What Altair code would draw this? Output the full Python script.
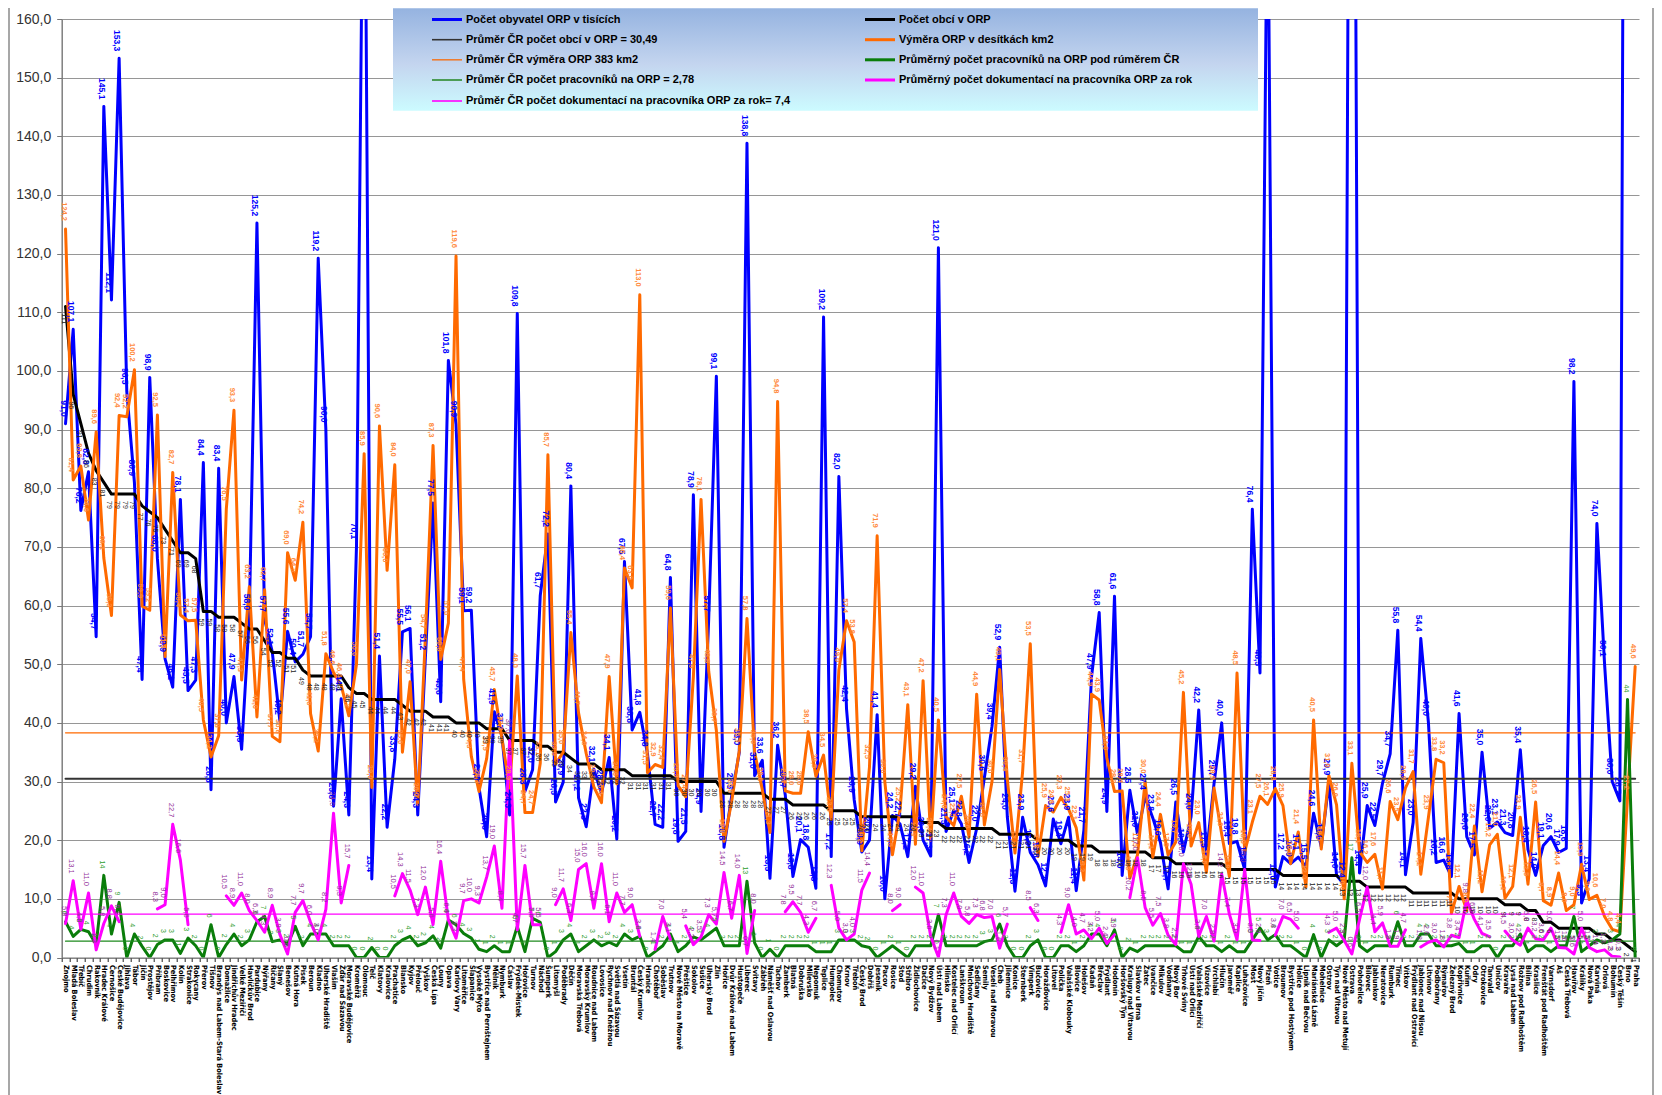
import altair as alt
import pandas as pd

N = None
categories = """Znojmo|Mladá Boleslav|Třebíč|Chrudim|Rakovník|Hradec Králové|Černošice|České Budějovice|Jihlava|Tábor|Jičín|Prostějov|Příbram|Boskovice|Pelhřimov|Kolín|Strakonice|Rokycany|Přerov|Tišnov|Brandýs nad Labem-Stará Boleslav|Domažlice|Jindřichův Hradec|Velké Meziříčí|Havlíčkův Brod|Pardubice|Nýřany|Říčany|Slaný|Benešov|Kutná Hora|Písek|Beroun|Kladno|Uherské Hradiště|Vlašim|Žďár nad Sázavou|Moravské Budějovice|Kroměříž|Olomouc|Telč|Klatovy|Kralovice|Prachatice|Blansko|Kyjov|Přelouč|Vyškov|Česká Lípa|Louny|Opava|Karlovy Vary|Litoměřice|Šlapanice|Vysoké Mýto|Bystřice nad Pernštejnem|Mělník|Nymburk|Čáslav|Frýdek-Místek|Hořovice|Turnov|Náchod|Šumperk|Litomyšl|Poděbrady|Děčín|Moravská Třebová|Moravský Krumlov|Roudnice nad Labem|Lovosice|Rychnov nad Kněžnou|Světlá nad Sázavou|Vsetín|Bruntál|Český Krumlov|Hranice|Chotěboř|Soběslav|Trutnov|Nové Město na Moravě|Přeštice|Sokolov|Sušice|Uherský Brod|Zlín|Hořice|Dvůr Králové nad Labem|Hustopeče|Liberec|Svitavy|Zábřeh|Náměšť nad Oslavou|Tachov|Žamberk|Blatná|Dobruška|Milevsko|Nepomuk|Teplice|Humpolec|Chomutov|Krnov|Třeboň|Český Brod|Dobříš|Jeseník|Pacov|Rosice|Stod|Stříbro|Židlochovice|Dačice|Nový Bydžov|Ústí nad Labem|Hlinsko|Kostelec nad Orlicí|Lanškroun|Mnichovo Hradiště|Sedlčany|Semily|Veselí nad Moravou|Cheb|Jilemnice|Konice|Šternberk|Vimperk|Bučovice|Horažďovice|Litovel|Polička|Valašské Klobouky|Blovice|Holešov|Kadaň|Břeclav|Frýdlant|Hodonín|Horšovský Týn|Kralupy nad Vltavou|Slavkov u Brna|Žatec|Ivančice|Mikulov|Vodňany|Nový Bor|Trhové Sviny|Ústí nad Orlicí|Valašské Meziříčí|Vizovice|Vrchlabí|Hlučín|Jaroměř|Kaplice|Luhačovice|Most|Nový Jičín|Plzeň|Votice|Broumov|Bystřice pod Hostýnem|Holice|Lipník nad Bečvou|Mariánské Lázně|Mohelnice|Ostrov|Týn nad Vltavou|Nové Město nad Metují|Ostrava|Pohořelice|Bílovec|Jablunkov|Neratovice|Rumburk|Třinec|Vítkov|Frýdlant nad Ostravicí|Jablonec nad Nisou|Litvínov|Podbořany|Rýmařov|Železný Brod|Kopřivnice|Kuřim|Odry|Otrokovice|Tanvald|Uničov|Kravaře|Lysá nad Labem|Rožnov pod Radhoštěm|Bílina|Kraslice|Frenštát pod Radhoštěm|Varnsdorf|Aš|Česká Třebová|Havířov|Králíky|Nová Paka|Karviná|Orlová|Bohumín|Český Těšín|Brno|Praha""".split("|")

obyvatel = [
91.0,107.1,76.2,82.8,54.7,145.1,112.1,153.3,96.5,80.9,
47.4,98.9,68.0,50.9,46.1,78.1,45.5,47.3,84.4,28.6,
83.4,40.0,47.9,35.5,58.0,125.2,57.7,52.1,40.2,55.6,
50.4,51.7,54.7,119.2,90.0,25.8,44.1,24.3,70.1,210,
13.4,51.4,22.2,33.8,55.5,56.1,24.3,51.2,77.5,43.6,
101.8,90.9,59.1,59.2,29.0,20.6,41.9,37.7,24.3,109.8,
28.3,32.0,61.7,72.2,26.5,29.9,80.4,27.2,22.3,32.1,
28.0,34.1,20.2,67.5,38.8,41.8,34.8,22.7,22.2,64.8,
19.8,21.5,78.9,24.9,57.7,99.1,18.8,27.5,35.0,138.8,
31.0,33.6,13.5,36.2,27.7,13.8,20.1,18.8,11.8,109.2,
17.2,82.0,42.4,26.9,18.0,20.0,41.4,10.0,24.2,22.7,
17.2,29.2,20.0,17.3,121.0,21.5,25.1,22.8,16.2,22.0,
30.6,39.4,52.9,24.0,11.3,23.9,17.9,15.8,12.2,23.6,
19.4,23.9,11.4,21.7,47.9,58.8,24.9,61.6,14.0,28.5,
21.0,27.4,23.8,19.6,11.7,26.5,18.0,24.0,42.2,17.5,
29.7,40.0,19.4,19.8,15.0,76.4,48.5,190,12.0,17.2,
16.0,17.1,15.5,24.6,18.9,29.9,14.0,12.4,320,14.4,
25.9,22.5,29.7,34.7,55.8,14.1,23.0,54.4,40.0,16.2,
16.6,13.8,41.6,20.6,17.5,35.0,22.0,23.1,21.3,20.8,
35.4,18.4,14.0,19.1,20.6,17.9,18.6,98.2,9.3,13.4,
74.0,50.1,30.0,26.7,380,N]

obce = [
111,96,91,86,83,81,79,79,79,79,
77,76,75,73,71,69,69,68,59,59,
58,58,58,57,56,56,54,52,52,51,
51,49,48,48,48,48,48,46,45,45,
44,44,44,44,43,42,42,42,41,41,
41,40,40,40,40,39,39,39,37,37,
37,37,36,36,35,35,34,33,33,33,
32,32,32,32,31,31,31,31,31,31,
30,30,30,30,30,30,28,28,28,28,
28,28,27,27,27,26,26,26,26,26,
25,25,25,25,24,24,24,24,24,24,
24,24,23,23,23,22,22,22,22,22,
22,22,21,21,21,21,21,20,20,20,
20,20,19,19,19,18,18,18,18,18,
18,18,17,17,17,16,16,16,16,16,
16,16,15,15,15,15,15,15,15,14,
14,14,14,14,14,14,14,13,13,13,
12,12,12,12,12,12,11,11,11,11,
11,11,10,10,10,10,10,10,9,9,
9,8,8,6,6,5,5,5,5,5,
4,4,3,3,2,1]

vymera = [
124.2,81.4,83.8,74.6,89.6,68.1,58.3,92.4,92.2,100.2,
59.9,59.2,92.5,51.3,82.7,58.4,57.4,57.5,40.5,34.2,
37.8,76.5,93.3,47.3,63.2,41.0,62.7,37.7,36.8,69.0,
64.3,74.2,41.6,35.2,51.8,48.6,46.4,41.2,50.0,85.9,
29.0,90.6,66.0,84.0,35.0,47.0,26.0,54.7,87.3,50.8,
57.0,119.6,47.4,34.3,28.3,33.9,45.7,37.3,28.9,48.0,
24.7,24.7,33.1,85.7,33.0,35.0,55.4,41.7,34.8,29.1,
26.4,47.9,29.6,66.4,63.0,113.0,31.5,32.9,32.4,59.6,
29.3,27.4,47.9,78.1,48.8,38.7,19.8,26.6,35.3,57.8,
35.0,28.6,21.3,94.8,28.4,28.0,28.0,38.5,30.9,34.5,
23.5,49.0,57.4,53.8,18.2,32.5,71.9,30.0,17.5,25.2,
43.1,19.3,47.2,20.0,40.5,24.0,22.5,27.5,20.6,44.9,
22.6,30.0,49.1,30.4,17.8,31.7,53.5,17.2,25.9,24.8,
27.3,25.3,22.1,13.2,44.9,43.9,34.0,28.3,28.4,13.5,
17.5,30.0,17.1,24.4,17.5,19.7,45.2,19.0,23.0,14.5,
28.9,21.0,13.8,48.5,18.0,23.1,27.5,26.1,28.8,25.9,
16.0,21.4,12.0,40.5,18.5,31.0,26.0,10.0,33.1,18.1,
16.2,17.6,11.7,26.6,23.5,28.9,31.7,14.2,23.9,33.8,
33.2,7.5,12.1,8.0,22.4,11.2,19.2,21.0,10.1,12.1,
23.9,12.5,26.5,9.7,8.9,14.4,8.0,9.0,15.9,9.9,
10.6,7.0,4.8,4.4,27.2,49.6]

pracovnici = [
6.1,3.6,4.8,4.4,2.2,14,4,9.4,0,4,
1.9,0,2.2,3,3,0.7,3.3,2,0,5.6,
0,2.2,4,2,3,6.1,7,2.7,3,2.2,
5.3,2,4,4,4,2,2,2,0,0,
1.7,0,0,2,3,3.6,2,2.5,3.7,1.6,
6.4,5.6,4.1,3.3,1.4,1,2,1,1,5.3,
1,6.7,6,0,1,3,4,1,2,3,
2,2.6,2,4,3,3.6,0,1,2,4,
1,2,3.5,3,4,5,2,2,2,13,
2.5,0,1.4,0,2,2,2,2,1,1,
1,3,3,3,2,1.7,0,1,2,1,
0,2,2,2,7.3,2,2,2,2,2,
2.7,3,5.7,2,0,0,2,3,0,0,
2,2,1,2,4,4,2,4.7,0,1.6,
1,2,2,2,2,2,1,1,3.6,2,
2,1,2,1,1,3,5,3,3.9,2,
2,1,0,3.9,0,3,2,3,17,2,
1,2,2,2,6.1,2,2,4,4,2,
2,2,2.4,1,1,2,2,0,2,2,
4,1,2,2,1,2,2,7,1,2,
3,2.5,3,4,44,0]

dokumentace = [
5.8,13.1,4.8,11.0,1.3,5.8,8.8,6.1,N,N,
N,N,8.3,9.0,22.7,16.6,5.6,N,N,N,
N,10.5,8.9,11.0,8.0,6.3,4.3,8.9,3.9,0.6,
7.7,9.7,6.0,3.0,8.2,24.6,9.3,15.7,N,N,
N,N,N,10.5,14.3,11.5,7.3,12.0,5.6,16.4,
6.4,3.3,9.7,10.0,9.3,13.7,19.0,8.4,37.0,4.7,
15.7,5.6,5.6,N,9.0,11.7,6.3,15.0,16.0,8.4,
16.0,6.1,11.0,7.7,9.0,3.6,N,1.4,7.0,3.1,
N,5.4,2.2,3.5,7.3,5.7,14.5,6.7,14.0,0.7,
8.0,N,N,N,7.8,9.5,7.7,4.3,6.7,N,
12.3,5.0,3.0,4.0,11.5,14.4,N,N,8.0,9.0,
N,12.0,11.0,3.6,0.1,7.3,11.0,7.0,5.8,7.3,
6.8,7.0,1.6,5.7,N,N,8.5,6.3,N,N,
4.3,9.0,4.0,4.7,3.2,5.0,2.4,3.9,N,10.2,
17.0,8.5,5.5,7.5,3.8,2.2,16.0,12.5,3.6,7.0,
2.8,14.2,7.4,3.0,15.0,3.0,2.9,N,3.8,7.0,
6.5,5.0,N,N,N,4.3,5.0,2.9,0.6,6.5,
12.0,4.4,5.9,1.9,1.9,4.7,N,1.8,2.6,3.0,
1.8,3.8,3.4,9.8,6.5,4.1,3.5,N,4.5,3.0,
2.1,5.0,3.2,3.0,5.0,1.7,1.6,0.6,5.0,1.7,
1.0,1.3,0.2,0.1,N,N]

avg_obce = 30.49
avg_vymera = 38.3
avg_prac = 2.78
avg_dok = 7.4

for s in (obyvatel, obce, vymera, pracovnici, dokumentace):
    assert len(s) == len(categories), len(s)

TOP = 160
FONT = "Liberation Sans"
CONDENSED = "DejaVu Sans Condensed, DejaVu Sans"
xenc = alt.X("c:N", sort=categories, title=None,
             scale=alt.Scale(type="band", paddingInner=0, paddingOuter=0, domain=categories))
yenc = alt.Y("v:Q", title=None, scale=alt.Scale(domain=[0, TOP], nice=False, zero=True))


def rows(values, dec):
    out = []
    for c, v in zip(categories, values):
        t = None
        if v is not None:
            t = f"{v:.1f}".replace(".", ",") if dec else str(int(round(v)))
        out.append({"c": c, "v": v, "t": t})
    return out


def line(values, color, width=3.0):
    return alt.Chart(alt.Data(values=rows(values, True))).mark_line(
        color=color, strokeWidth=width, clip=True, strokeCap="round", strokeJoin="round"
    ).encode(x=xenc, y=yenc)


def labels(values, color, dec, size, dx, align="right", weight="normal"):
    d = [r for r in rows(values, dec) if r["v"] is not None and r["v"] <= TOP]
    return alt.Chart(alt.Data(values=d)).mark_text(
        angle=90, align=align, baseline="middle", dx=dx, dy=2, color=color,
        fontSize=size, font=FONT, fontWeight=weight
    ).encode(x=xenc, y=yenc, text="t:N")


base_axis = alt.Chart(alt.Data(values=rows(obce, False))).mark_line(opacity=0).encode(
    x=alt.X("c:N", sort=categories, title=None,
            scale=alt.Scale(type="band", paddingInner=0, paddingOuter=0, domain=categories),
            axis=alt.Axis(labelAngle=90, labelOverlap=False, labelFontSize=7.3, labelFont=CONDENSED,
                          labelFontWeight="bold",
                          labelColor="#000000", labelPadding=3, labelLimit=0, tickBand="extent",
                          tickSize=4, tickColor="#222222", domainColor="#777777", grid=False,
                          labelBaseline="middle", labelAlign="left")),
    y=alt.Y("v:Q", title=None, scale=alt.Scale(domain=[0, TOP], nice=False, zero=True),
            axis=alt.Axis(values=list(range(0, TOP + 1, 10)), grid=True, gridColor="#969696",
                          gridWidth=1, domainColor="#777777", domainWidth=1.4, tickColor="#777777",
                          tickSize=5, labelFontSize=14, labelFont=FONT, labelColor="#333333",
                          labelPadding=6,
                          labelExpr="replace(format(datum.value,'.1f'),'.',',')")),
)

one = alt.Data(values=[{"a": 0}])
BLUE, BLACK, ORANGE, GREEN, MAG = "#0000ff", "#000000", "#ff6a00", "#0a7d0a", "#ff00ff"

# plot-origin in page coordinates
OX, OY = 61.7, 19.0

legend_rows = [
    ("Počet obyvatel ORP v tisících", BLUE, 3, 432, 19.5),
    ("Počet obcí v ORP", BLACK, 3, 865, 19.5),
    ("Průměr ČR počet obcí v ORP = 30,49", "#333333", 1.6, 432, 39.7),
    ("Výměra ORP v desítkách km2", ORANGE, 3, 865, 39.7),
    ("Průměr ČR výměra ORP 383 km2", "#ed7d31", 1.6, 432, 59.8),
    ("Průměrný počet pracovníků na ORP pod rúměrem ČR", GREEN, 3, 865, 59.8),
    ("Průměr ČR počet pracovníků na ORP = 2,78", "#2e8b2e", 1.6, 432, 80),
    ("Průměrný počet dokumentací na pracovníka ORP za rok", MAG, 3, 865, 80),
    ("Průměr ČR počet dokumentací na pracovníka ORP za rok= 7,4", MAG, 1.6, 432, 101),
]

legend_box = alt.Chart(one).mark_rect(
    color=alt.LinearGradient(gradient="linear", x1=0, x2=0, y1=0, y2=1,
                             stops=[alt.GradientStop(color="#95b3e0", offset=0),
                                    alt.GradientStop(color="#c4d5ef", offset=0.55),
                                    alt.GradientStop(color="#ccfbff", offset=1)])
).encode(x=alt.value(393 - OX), x2=alt.value(1258 - OX), y=alt.value(8.2 - OY), y2=alt.value(110.7 - OY))

legend_layers = [legend_box]
for text, col, w, lx, ly in legend_rows:
    legend_layers.append(alt.Chart(one).mark_rule(color=col, strokeWidth=w).encode(
        x=alt.value(lx - OX), x2=alt.value(lx + 30 - OX), y=alt.value(ly - OY)))
    legend_layers.append(alt.Chart(one).mark_text(
        text=text, align="left", baseline="middle", font=FONT, fontSize=11, fontWeight="bold",
        color="#000000").encode(x=alt.value(lx + 34 - OX), y=alt.value(ly - OY)))

frame = [
    alt.Chart(one).mark_rule(color="#8a8a8a", strokeWidth=1.5).encode(
        x=alt.value(xp - OX), y=alt.value(8 - OY), y2=alt.value(1095 - OY))
    for xp in (9, 1653)
]

const = lambda v: [v] * len(categories)

chart = alt.layer(
    base_axis,
    line(obyvatel, BLUE),
    line(obce, BLACK),
    line(const(avg_obce), "#333333", 2),
    line(vymera, ORANGE),
    line(const(avg_vymera), ORANGE, 1.2),
    line(pracovnici, GREEN),
    line(const(avg_prac), "#1e8a1e", 1.2),
    line(dokumentace, MAG),
    line(const(avg_dok), MAG, 1.2),
    labels(obyvatel, BLUE, True, 8.5, -7, weight="bold"),
    labels(vymera, "#ff8a3c", True, 7.5, -8, weight="bold"),
    labels(obce, "#222222", False, 7, 7, align="left"),
    labels(pracovnici, "#2f9e2f", False, 7, -7),
    labels(dokumentace, "#93309a", True, 7.5, -7),
    *legend_layers,
    *frame,
).properties(
    width=1577.3, height=938.5,
    autosize=alt.AutoSizeParams(type="none"),
    padding={"left": 53.7, "top": 11, "right": 15, "bottom": 137.5},
    background="#ffffff",
).configure_view(strokeWidth=0)

chart.save("out.html", embed_options={"renderer": "svg", "actions": False})
